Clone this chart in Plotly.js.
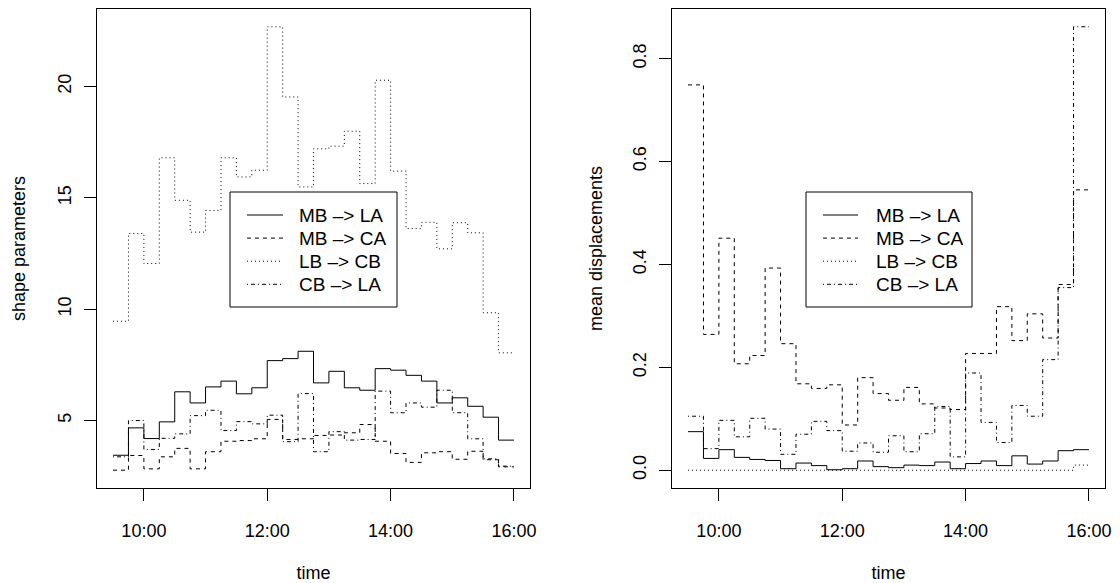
<!DOCTYPE html>
<html><head><meta charset="utf-8">
<script src="https://cdn.plot.ly/plotly-3.0.1.min.js"></script>
<style>html,body{margin:0;padding:0;background:#fff}#chart{width:1120px;height:583px}</style>
</head><body><div id="chart"></div>
<script>
// interval boundaries (15-minute steps, 9:30 to 16:00)
const times = ["09:30","09:45","10:00","10:15","10:30","10:45","11:00","11:15","11:30","11:45",
  "12:00","12:15","12:30","12:45","13:00","13:15","13:30","13:45","14:00","14:15",
  "14:30","14:45","15:00","15:15","15:30","15:45","16:00"];
const seriesNames = ["MB –> LA","MB –> CA","LB –> CB","CB –> LA"];
const xTickLabels = ["10:00","12:00","14:00","16:00"];

// left panel: shape parameters (one value per 15-min interval)
const shapeMBLA = [3.44,4.67,4.19,4.94,6.29,5.79,6.51,6.77,6.20,6.47,7.69,7.78,8.11,6.69,7.21,6.47,6.36,7.33,7.26,7.03,6.77,5.79,6.02,5.64,5.15,4.12];
const shapeMBCA = [2.77,3.43,2.83,3.37,3.75,2.83,3.60,4.07,4.10,4.18,5.05,4.15,4.18,4.33,4.35,4.45,4.82,4.07,3.52,3.12,3.55,3.60,3.26,3.62,3.24,2.92];
const shapeLBCB = [9.46,13.40,12.05,16.80,14.89,13.46,14.43,16.80,15.94,16.24,22.68,19.53,15.49,17.20,17.32,17.99,15.64,20.28,16.20,13.62,13.90,12.71,13.88,13.43,9.84,8.04];
const shapeCBLA = [3.37,5.00,3.70,4.20,4.40,5.22,5.46,4.55,4.95,4.85,5.24,4.05,6.21,3.60,4.50,4.12,4.15,6.32,5.35,5.79,5.60,6.36,5.35,4.18,3.28,2.95];

// right panel: mean displacements
const dispMBLA = [0.075,0.023,0.040,0.025,0.021,0.019,0.003,0.014,0.009,0.001,0.003,0.018,0.007,0.005,0.010,0.009,0.016,0.003,0.013,0.018,0.009,0.028,0.012,0.018,0.038,0.040];
const dispMBCA = [0.749,0.264,0.451,0.207,0.223,0.393,0.246,0.168,0.159,0.166,0.088,0.180,0.149,0.136,0.161,0.129,0.121,0.118,0.227,0.227,0.318,0.252,0.304,0.257,0.361,0.545];
const dispLBCB = [0,0,0,0,0,0,0,0,0,0,0,0,0,0,0,0,0,0,0,0,0,0,0,0,0,0.010];
const dispCBLA = [0.105,0.042,0.097,0.065,0.101,0.080,0.031,0.070,0.095,0.077,0.037,0.053,0.035,0.067,0.036,0.071,0.124,0.026,0.189,0.093,0.054,0.126,0.105,0.215,0.355,0.862];

const day = "2000-01-01 ";
const x = times.map(t => day + t);
const stepY = v => v.concat([v[v.length - 1]]);
const dashes = ["solid", "4px,4px", "1px,3px", "1px,3px,4px,3px"];

const traces = [];
[shapeMBLA, shapeMBCA, shapeLBCB, shapeCBLA].forEach((v, i) => traces.push({
  x: x, y: stepY(v), type: "scatter", mode: "lines", name: seriesNames[i],
  line: {shape: "hv", color: "#000", width: 1, dash: dashes[i]},
  xaxis: "x", yaxis: "y", showlegend: false
}));
[dispMBLA, dispMBCA, dispLBCB, dispCBLA].forEach((v, i) => traces.push({
  x: x, y: stepY(v), type: "scatter", mode: "lines", name: seriesNames[i],
  line: {shape: "hv", color: "#000", width: 1, dash: dashes[i]},
  xaxis: "x2", yaxis: "y2", showlegend: false
}));

const PL = 97, PR = 1105, PT = 9, PB = 488;
const W = PR - PL, H = PB - PT;
const px = v => (v - PL) / W;
const py = v => (PB - v) / H;

const axisCommon = {
  showline: true, mirror: true, linecolor: "#000", linewidth: 1,
  ticks: "outside", ticklen: 12, tickcolor: "#000", tickwidth: 1,
  showgrid: false, zeroline: false, fixedrange: true,
  tickfont: {size: 18}
};
const xRange = [day + "09:14:24", day + "16:15:36"];
const xTicks = xTickLabels.map(t => day + t);

// legend boxes (drawn as R-style boxed keys)
const shapes = [];
const annotations = [];
function addLegend(boxL, boxR, lineL, lineR, textL) {
  shapes.push({type: "rect", xref: "paper", yref: "paper", x0: px(boxL), x1: px(boxR),
    y0: py(307), y1: py(192), line: {color: "#000", width: 1}, fillcolor: "#fff", layer: "above"});
  seriesNames.forEach((nm, i) => {
    const yy = 215 + i * 23.1;
    shapes.push({type: "line", xref: "paper", yref: "paper", x0: px(lineL), x1: px(lineR),
      y0: py(yy), y1: py(yy), line: {color: "#000", width: 1, dash: dashes[i]}, layer: "above"});
    annotations.push({xref: "paper", yref: "paper", x: px(textL), y: py(yy), text: nm,
      xanchor: "left", yanchor: "middle", showarrow: false, font: {size: 19}});
  });
}
addLegend(230, 397, 247, 283, 297);
addLegend(806, 972, 823, 858, 874);

const layout = {
  width: 1120, height: 583,
  margin: {l: PL, r: 1120 - PR, t: PT, b: 583 - PB},
  paper_bgcolor: "#fff", plot_bgcolor: "#fff",
  font: {family: "Liberation Sans, Arial, Helvetica, sans-serif", size: 18, color: "#000"},
  xaxis: Object.assign({}, axisCommon, {domain: [0, px(530)], anchor: "y", type: "date",
    range: xRange, tickvals: xTicks, ticktext: xTickLabels, ticklabelstandoff: 14,
    title: {text: "time", standoff: 30, font: {size: 18}}}),
  yaxis: Object.assign({}, axisCommon, {domain: [0, 1], anchor: "x", range: [1.97, 23.48],
    tickvals: [5, 10, 15, 20], tickangle: -90, ticklabelstandoff: 6,
    title: {text: "shape parameters", standoff: 24, font: {size: 18}}}),
  xaxis2: Object.assign({}, axisCommon, {domain: [px(672), 1], anchor: "y2", type: "date",
    range: xRange, tickvals: xTicks, ticktext: xTickLabels, ticklabelstandoff: 14,
    title: {text: "time", standoff: 30, font: {size: 18}}}),
  yaxis2: Object.assign({}, axisCommon, {domain: [0, 1], anchor: "x2", range: [-0.0345, 0.8965],
    tickvals: [0, 0.2, 0.4, 0.6, 0.8], tickformat: ".1f", tickangle: -90, ticklabelstandoff: 6,
    title: {text: "mean displacements", standoff: 22, font: {size: 18}}}),
  shapes: shapes,
  annotations: annotations,
  showlegend: false
};

Plotly.newPlot("chart", traces, layout, {staticPlot: true, displayModeBar: false});
</script>
</body></html>
